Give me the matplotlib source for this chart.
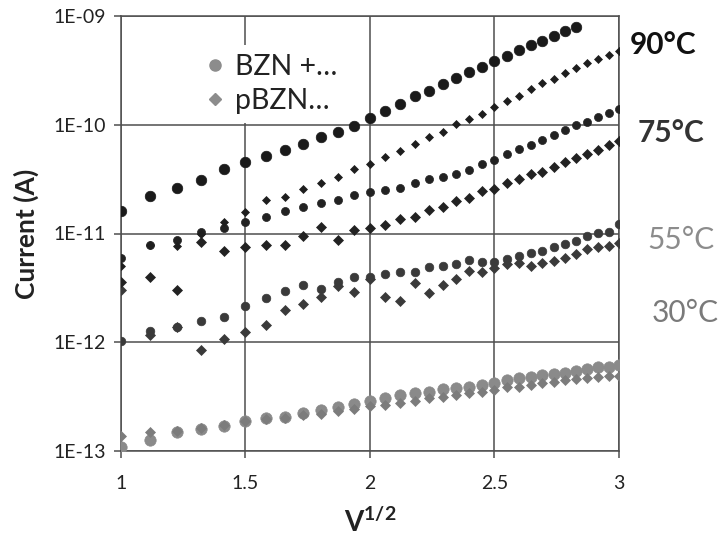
import numpy as np
import matplotlib
matplotlib.use("Agg")
import matplotlib.pyplot as plt
from matplotlib.lines import Line2D
from matplotlib.ticker import FixedLocator, FuncFormatter, NullLocator

plt.rcParams["font.family"] = ["Lato", "DejaVu Sans"]
plt.rcParams["mathtext.fontset"] = "custom"
plt.rcParams["mathtext.bf"] = "Lato:bold"
plt.rcParams["mathtext.rm"] = "Lato"

# Applied bias (V); the x axis is its square root
volts = [1.0, 1.25, 1.5, 1.75, 2.0, 2.25, 2.5, 2.75, 3.0, 3.25, 3.5, 3.75,
         4.0, 4.25, 4.5, 4.75, 5.0, 5.25, 5.5, 5.75, 6.0, 6.25, 6.5, 6.75,
         7.0, 7.25, 7.5, 7.75, 8.0, 8.25, 8.5, 8.75, 9.0]

nan = np.nan

# Leakage current (A) for the BZN film (circles) and pBZN film (diamonds)
bzn_90 = [1.61e-11, 2.23e-11, 2.62e-11, 3.10e-11, 3.89e-11, 4.57e-11, 5.19e-11,
          5.82e-11, 6.61e-11, 7.67e-11, 8.52e-11, 9.74e-11, 1.16e-10, 1.35e-10,
          1.55e-10, 1.83e-10, 2.06e-10, 2.37e-10, 2.71e-10, 3.08e-10, 3.42e-10,
          3.88e-10, 4.32e-10, 4.87e-10, 5.41e-10, 5.93e-10, 6.59e-10, 7.23e-10,
          7.97e-10, nan, nan, nan, nan]
pbzn_90 = [5.0e-12, 7.8e-12, 7.7e-12, 9.9e-12, 1.28e-11, 1.59e-11, 2.03e-11,
           2.18e-11, 2.55e-11, 2.89e-11, 3.33e-11, 3.92e-11, 4.33e-11, 5.02e-11,
           5.77e-11, 6.61e-11, 7.76e-11, 8.63e-11, 1.02e-10, 1.13e-10, 1.26e-10,
           1.45e-10, 1.66e-10, 1.85e-10, 2.13e-10, 2.40e-10, 2.63e-10, 3.01e-10,
           3.30e-10, 3.67e-10, 4.00e-10, 4.38e-10, 4.80e-10]
bzn_75 = [5.9e-12, 7.8e-12, 8.7e-12, 1.03e-11, 1.13e-11, 1.28e-11, 1.41e-11,
          1.62e-11, 1.76e-11, 1.89e-11, 2.03e-11, 2.26e-11, 2.39e-11, 2.51e-11,
          2.60e-11, 2.89e-11, 3.17e-11, 3.33e-11, 3.55e-11, 3.84e-11, 4.36e-11,
          4.74e-11, 5.38e-11, 5.95e-11, 6.51e-11, 7.24e-11, 8.05e-11, 8.95e-11,
          9.95e-11, 1.07e-10, 1.17e-10, 1.28e-10, 1.40e-10]
pbzn_75 = [3.6e-12, 4.0e-12, 3.0e-12, 8.4e-12, 6.9e-12, 7.5e-12, 7.8e-12,
           7.8e-12, 9.5e-12, 1.15e-11, 8.7e-12, 1.07e-11, 1.12e-11, 1.20e-11,
           1.35e-11, 1.43e-11, 1.64e-11, 1.74e-11, 1.99e-11, 2.11e-11, 2.46e-11,
           2.57e-11, 2.89e-11, 3.15e-11, 3.53e-11, 3.70e-11, 4.11e-11, 4.57e-11,
           4.91e-11, 5.38e-11, 5.86e-11, 6.51e-11, 7.09e-11]
bzn_55 = [1.03e-12, 1.27e-12, 1.39e-12, 1.57e-12, 1.70e-12, 2.16e-12, 2.54e-12,
          2.96e-12, 3.36e-12, 3.09e-12, 3.60e-12, 4.01e-12, 3.95e-12, 4.21e-12,
          4.46e-12, 4.46e-12, 4.95e-12, 5.06e-12, 5.24e-12, 5.70e-12, 5.43e-12,
          5.50e-12, 5.79e-12, 6.21e-12, 6.58e-12, 6.95e-12, 7.56e-12, 8.01e-12,
          8.58e-12, 9.48e-12, 1.02e-11, 1.04e-11, 1.22e-11]
pbzn_55 = [3.0e-12, 1.17e-12, 1.38e-12, 8.5e-13, 1.08e-12, 1.23e-12, 1.44e-12,
           1.98e-12, 2.25e-12, 2.62e-12, 3.29e-12, 2.92e-12, 3.81e-12, 2.62e-12,
           2.40e-12, 3.48e-12, 2.86e-12, 3.36e-12, 3.79e-12, 4.55e-12, 4.43e-12,
           4.82e-12, 5.19e-12, 5.32e-12, 5.03e-12, 5.32e-12, 5.55e-12, 5.96e-12,
           6.48e-12, 7.16e-12, 7.56e-12, 7.63e-12, 8.13e-12]
bzn_30 = [1.08e-13, 1.26e-13, 1.49e-13, 1.61e-13, 1.71e-13, 1.89e-13, 1.99e-13,
          2.07e-13, 2.25e-13, 2.38e-13, 2.54e-13, 2.68e-13, 2.91e-13, 3.05e-13,
          3.27e-13, 3.39e-13, 3.51e-13, 3.69e-13, 3.77e-13, 3.90e-13, 4.05e-13,
          4.25e-13, 4.50e-13, 4.66e-13, 4.82e-13, 5.00e-13, 5.11e-13, 5.25e-13,
          5.48e-13, 5.67e-13, 5.88e-13, 5.96e-13, 6.18e-13]
pbzn_30 = [1.37e-13, 1.49e-13, 1.53e-13, 1.63e-13, 1.74e-13, 1.87e-13, 1.95e-13,
           2.01e-13, 2.14e-13, 2.21e-13, 2.33e-13, 2.43e-13, 2.57e-13, 2.65e-13,
           2.75e-13, 2.90e-13, 3.05e-13, 3.16e-13, 3.27e-13, 3.39e-13, 3.47e-13,
           3.64e-13, 3.85e-13, 3.90e-13, 4.05e-13, 4.19e-13, 4.34e-13, 4.50e-13,
           4.56e-13, 4.72e-13, 4.82e-13, 4.93e-13, 4.93e-13]

temp_labels = ["90°C", "75°C", "55°C", "30°C"]
legend_labels = ["BZN +…", "pBZN…"]
x_ticks = [1, 1.5, 2, 2.5, 3]
y_ticks = [1e-13, 1e-12, 1e-11, 1e-10, 1e-9]

x = np.sqrt(volts)

fig = plt.figure(figsize=(7.25, 5.37), dpi=100)
ax = fig.add_axes([121 / 725, 1 - 451 / 537, 498 / 725, 435 / 537])

grid_c = "#4e4e4e"

# (values, marker, size, colour)
series = [
    (bzn_30, "o", 8.2, "#8a8a8a"),
    (pbzn_30, "D", 5.6, "#7c7c7c"),
    (bzn_55, "o", 6.2, "#3a3a3a"),
    (pbzn_55, "D", 5.2, "#3a3a3a"),
    (bzn_75, "o", 5.8, "#222222"),
    (pbzn_75, "D", 5.6, "#222222"),
    (pbzn_90, "D", 3.6, "#1e1e1e"),
    (bzn_90, "o", 7.6, "#1a1a1a"),
]
for vals, mk, ms, col in series:
    ax.plot(x, vals, linestyle="none", marker=mk, markersize=ms,
            markerfacecolor=col, markeredgecolor=col, markeredgewidth=0.5,
            zorder=3)

ax.set_yscale("log")
ax.set_xlim(1, 3)
ax.set_ylim(1e-13, 1e-9)
ax.xaxis.set_major_locator(FixedLocator(x_ticks))
ax.yaxis.set_major_locator(FixedLocator(y_ticks))
ax.yaxis.set_minor_locator(NullLocator())
ax.xaxis.set_major_formatter(FuncFormatter(lambda v, p: f"{v:g}"))
ax.yaxis.set_major_formatter(
    FuncFormatter(lambda v, p: "1E-%02d" % int(round(-np.log10(v)))))

ax.grid(True, which="major", color=grid_c, linewidth=1.1, zorder=1)
ax.set_axisbelow(True)
for s in ax.spines.values():
    s.set_color(grid_c)
    s.set_linewidth(1.1)
ax.tick_params(axis="both", which="major", direction="out", length=5,
               width=1.1, color=grid_c, labelsize=14, labelcolor="#222222")
ax.tick_params(axis="x", pad=12)
ax.tick_params(axis="y", pad=6)

ax.set_ylabel("Current (A)", fontsize=19, fontweight="bold", color="#222222",
              labelpad=10)
ax.set_xlabel(r"$\mathbf{V^{1/2}}$", fontsize=20, color="#222222",
              labelpad=12)

handles = [
    Line2D([], [], linestyle="none", marker="o", markersize=8,
           markerfacecolor="#8c8c8c", markeredgecolor="#8c8c8c"),
    Line2D([], [], linestyle="none", marker="D", markersize=6.5,
           markerfacecolor="#8c8c8c", markeredgecolor="#8c8c8c"),
]
leg = ax.legend(handles, legend_labels, loc="upper left",
                bbox_to_anchor=(0.115, 0.965), frameon=True, framealpha=1,
                facecolor="white", edgecolor="none", fontsize=20.5,
                handletextpad=0.2, handlelength=1.0, labelspacing=0.28,
                borderpad=0.3, labelcolor="#222222")
leg.set_zorder(5)

# Temperature tags beside each pair of curves
temp_colors = ["#111111", "#333333", "#8c8c8c", "#7a7a7a"]
temp_weights = ["bold", "bold", "normal", "normal"]
temp_pos = [(630, 45), (638, 133), (647, 240), (652, 313)]
for lab, col, w, (px, py) in zip(temp_labels, temp_colors, temp_weights,
                                 temp_pos):
    fig.text(px / 725, 1 - py / 537, lab, color=col, fontweight=w,
             fontsize=21.5, ha="left", va="center")

fig.savefig("out.png", dpi=100)
